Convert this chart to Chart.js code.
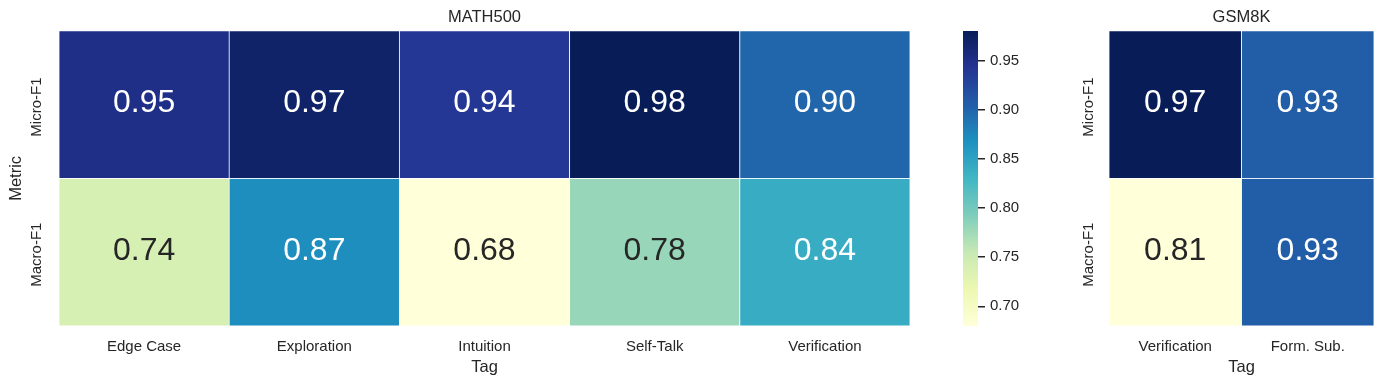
<!DOCTYPE html>
<html>
<head>
<meta charset="utf-8">
<script src="https://cdn.jsdelivr.net/npm/chart.js@4"></script>
<style>
  body { margin: 0; background: #fff; }
  #wrap { position: relative; width: 1384px; height: 384px; }
  canvas { position: absolute; left: 0; top: 0; }
</style>
</head>
<body>
<div id="wrap">
  <canvas id="math" width="1384" height="384"></canvas>
  <canvas id="cbar" width="1384" height="384"></canvas>
  <canvas id="gsm" width="1384" height="384"></canvas>
</div>
<script>
const metrics = ["Micro-F1", "Macro-F1"];

const mathTags = ["Edge Case", "Exploration", "Intuition", "Self-Talk", "Verification"];
const mathMicro = [0.95, 0.97, 0.94, 0.98, 0.90];
const mathMacro = [0.74, 0.87, 0.68, 0.78, 0.84];

const gsmTags = ["Verification", "Form. Sub."];
const gsmMicro = [0.97, 0.93];
const gsmMacro = [0.81, 0.93];

const cbarTicks = [0.70, 0.75, 0.80, 0.85, 0.90, 0.95];

// YlGnBu stops
const ylgnbu = ["#ffffd9", "#edf8b1", "#c7e9b4", "#7fcdbb", "#41b6c4", "#1d91c0", "#225ea8", "#253494", "#081d58"];

Chart.defaults.font.family = "'Liberation Sans', Arial, sans-serif";
Chart.defaults.color = "#262626";

function hexRgb(h) {
  return [parseInt(h.slice(1, 3), 16), parseInt(h.slice(3, 5), 16), parseInt(h.slice(5, 7), 16)];
}

function cmap(t) {
  t = Math.max(0, Math.min(1, t));
  const pos = t * (ylgnbu.length - 1);
  const i = Math.min(Math.floor(pos), ylgnbu.length - 2);
  const f = pos - i;
  const a = hexRgb(ylgnbu[i]), b = hexRgb(ylgnbu[i + 1]);
  return a.map((c, k) => Math.round(c + (b[k] - c) * f));
}

function lum(rgb) {
  const lin = rgb.map(c => {
    c = c / 255;
    return c <= 0.03928 ? c / 12.92 : Math.pow((c + 0.055) / 1.055, 2.4);
  });
  return 0.2126 * lin[0] + 0.7152 * lin[1] + 0.0722 * lin[2];
}

const cellLabels = {
  id: "cellLabels",
  afterDatasetsDraw(chart) {
    const c = chart.ctx;
    c.save();
    c.font = "32px 'Liberation Sans', Arial, sans-serif";
    c.textAlign = "center";
    c.textBaseline = "middle";
    chart.data.datasets.forEach((ds, d) => {
      chart.getDatasetMeta(d).data.forEach((el, i) => {
        const p = el.getProps(["x", "y", "base"], true);
        const v = ds.values[i];
        c.fillStyle = lum(ds.rgb[i]) < 0.408 ? "#ffffff" : "#262626";
        c.fillText(v.toFixed(2), p.x, (p.y + p.base) / 2 - 1.5);
      });
    });
    c.restore();
  }
};

function heatmap(id, title, tags, rows, padLeft, padRight, yWidth, yPad, showYTitle) {
  const all = rows.flat();
  const vmin = Math.min(...all), vmax = Math.max(...all);
  const datasets = rows.map((vals, r) => {
    const rgb = vals.map(v => cmap((v - vmin) / (vmax - vmin)));
    return {
      label: metrics[r],
      data: tags.map(() => [r, r + 1]),
      values: vals,
      rgb: rgb,
      backgroundColor: rgb.map(c => `rgb(${c[0]},${c[1]},${c[2]})`),
      borderColor: "#ffffff",
      borderWidth: 0.75,
      borderSkipped: false,
      barPercentage: 1,
      categoryPercentage: 1,
      grouped: false
    };
  });
  return new Chart(document.getElementById(id), {
    type: "bar",
    data: { labels: tags, datasets: datasets },
    options: {
      responsive: false,
      animation: false,
      layout: { padding: { left: padLeft, right: padRight, top: 0, bottom: 0 } },
      plugins: {
        legend: { display: false },
        tooltip: { enabled: false },
        title: {
          display: true,
          text: title,
          fullSize: false,
          font: { size: 16.5, weight: "normal", lineHeight: 1.2 },
          color: "#262626",
          padding: { top: 8, bottom: 3 }
        }
      },
      scales: {
        x: {
          type: "category",
          grid: { display: false, drawTicks: false },
          border: { display: false },
          ticks: { font: { size: 15 }, padding: 12, maxRotation: 0 },
          title: { display: true, text: "Tag", font: { size: 16.5 }, padding: { top: 0, bottom: 7 } },
          afterFit: s => { s.height = 58; }
        },
        y: {
          type: "linear",
          min: 0,
          max: rows.length,
          reverse: true,
          grid: { display: false, drawTicks: false },
          border: { display: false },
          afterBuildTicks: s => { s.ticks = metrics.map((m, i) => ({ value: i + 0.5 })); },
          ticks: {
            font: { size: 15 },
            minRotation: 90,
            maxRotation: 90,
            crossAlign: "center",
            padding: yPad,
            labelOffset: 2.5,
            callback: (v, i) => metrics[i]
          },
          title: { display: showYTitle, text: "Metric", font: { size: 16.5 }, padding: { top: 7, bottom: 0 } },
          afterFit: s => { s.width = yWidth; }
        }
      }
    },
    plugins: [cellLabels]
  });
}

heatmap("math", "MATH500", mathTags, [mathMicro, mathMacro], 0, 474, 59, -10, true);
heatmap("gsm", "GSM8K", gsmTags, [gsmMicro, gsmMacro], 1060, 10, 49, -12, false);

// colorbar
const mathAll = mathMicro.concat(mathMacro);
const cbMin = Math.min(...mathAll), cbMax = Math.max(...mathAll);
new Chart(document.getElementById("cbar"), {
  type: "bar",
  data: {
    labels: [""],
    datasets: [{
      data: [[cbMin, cbMax]],
      barPercentage: 1,
      categoryPercentage: 1,
      borderWidth: 0,
      backgroundColor: (ctx) => {
        const area = ctx.chart.chartArea;
        if (!area) return "#888";
        const g = ctx.chart.ctx.createLinearGradient(0, area.bottom, 0, area.top);
        for (let k = 0; k <= 40; k++) {
          const c = cmap(k / 40);
          g.addColorStop(k / 40, `rgb(${c[0]},${c[1]},${c[2]})`);
        }
        return g;
      }
    }]
  },
  options: {
    responsive: false,
    animation: false,
    layout: { padding: { left: 963, right: 331, top: 31, bottom: 58 } },
    plugins: { legend: { display: false }, tooltip: { enabled: false } },
    scales: {
      x: { display: false },
      y: {
        position: "right",
        min: cbMin,
        max: cbMax,
        grid: { drawOnChartArea: false, drawTicks: true, tickLength: 7, color: "#262626", lineWidth: 1.5 },
        border: { display: false },
        afterBuildTicks: s => { s.ticks = cbarTicks.map(v => ({ value: v })); },
        ticks: { font: { size: 15 }, padding: 5, callback: v => v.toFixed(2) },
        afterFit: s => { s.width = 75; }
      }
    }
  }
});
</script>
</body>
</html>
